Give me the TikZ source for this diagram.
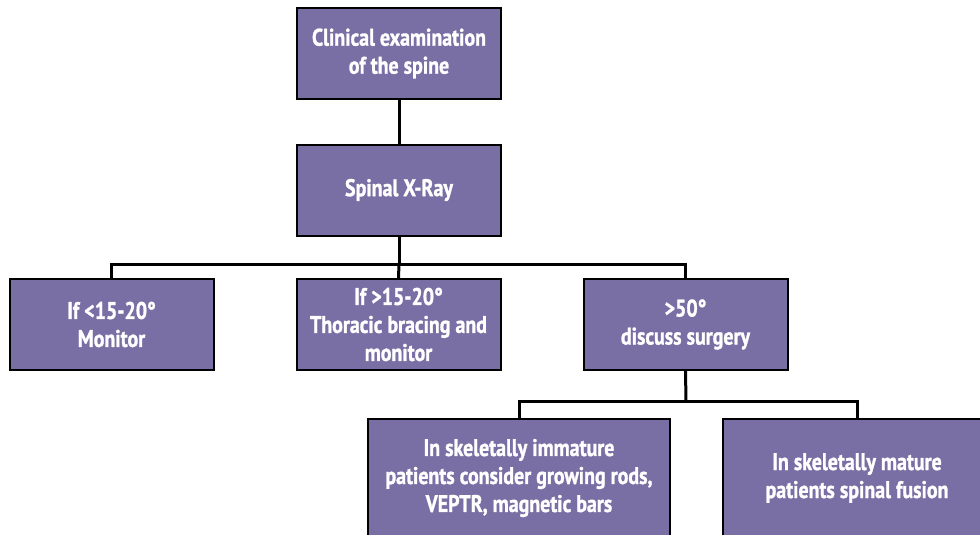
\documentclass[tikz,border=0pt]{standalone}
\usepackage{fontspec}
\setmainfont{PT Sans}[FakeStretch=0.83, BoldFeatures={FakeBold=1.2}]
\definecolor{boxfill}{RGB}{122,111,164}
\tikzset{
  flowbox/.style={draw=black, line width=2pt, fill=boxfill, text=white,
    align=center, inner sep=0pt, minimum width=204pt, minimum height=91pt,
    font=\fontsize{24}{28}\selectfont\bfseries},
  conn/.style={draw=black, line width=3pt}
}
\begin{document}
\begin{tikzpicture}[x=1pt,y=-1pt]
\useasboundingbox (0,0) rectangle (980,535);
\clip (0,0) rectangle (980,535);
\fill[white] (0,0) rectangle (980,535);
\node[flowbox] (b1) at (399,53.5) {Clinical examination\\of the spine};
\node[flowbox] (b2) at (399,190) {Spinal X-Ray};
\node[flowbox] (b3) at (111.5,324.5) {If <15-20°\\Monitor};
\node[flowbox] (b4) at (398.5,324.5) {If >15-20°\\Thoracic bracing and\\monitor};
\node[flowbox] (b5) at (685.5,324.5) {>50°\\discuss surgery};
\node[flowbox, minimum width=302pt, minimum height=118pt] (b6) at (519,478) {In skeletally immature\\patients consider growing rods,\\VEPTR, magnetic bars};
\node[flowbox, minimum width=268pt, minimum height=118pt] (b7) at (857,478) {In skeletally mature\\patients spinal fusion};
\coordinate (j1) at (399,264);
\coordinate (j2) at (686,401);
\draw[conn] (b1.south) -- (b2.north);
\draw[conn] (b2.south) -- (j1);
\draw[conn] (b3.north) -- (b3.north |- j1) -- (b5.north |- j1) -- (b5.north);
\draw[conn] (j1) -- (b4.north);
\draw[conn] (b5.south) -- (j2);
\draw[conn] (b6.north) -- (b6.north |- j2) -- (b7.north |- j2) -- (b7.north);
\end{tikzpicture}
\end{document}
